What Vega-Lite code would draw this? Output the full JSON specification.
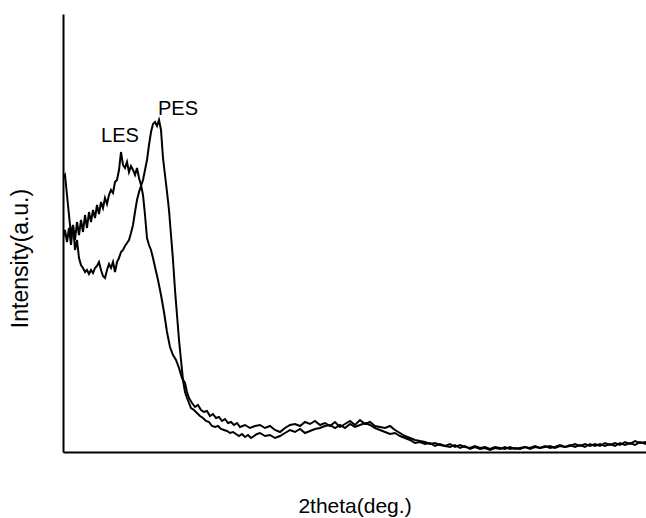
{
  "$schema": "https://vega.github.io/schema/vega-lite/v6.json",
  "width": 583,
  "height": 438,
  "autosize": {"type": "none"},
  "padding": {"left": 63, "top": 14, "right": 0, "bottom": 66},
  "background": "white",
  "config": {"view": {"stroke": null}, "font": "Liberation Sans"},
  "datasets": {
    "LES": [
      [0,214],[0.2,222],[0.4,210],[0.6,224],[0.8,207],[1.0,227],[1.2,212],[1.4,230],[1.6,217],[1.8,232],[2.0,220],[2.2,237],[2.4,224],[2.6,240],[2.8,230],[3.0,242],[3.2,234],[3.4,247],[3.6,238],[3.8,250],[4.0,244],[4.2,254],[4.4,248],[4.6,257],[4.8,262],[5.0,259],[5.2,270],[5.4,272],[5.6,282],[5.8,300],[6.0,287],[6.2,284],[6.4,290],[6.6,280],[6.8,286],[7.0,282],[7.2,277],[7.4,284],[7.6,274],[7.8,267],[8.0,257],[8.2,237],[8.4,214],[8.6,207],[8.8,202],[9.0,194],[9.2,185],[9.5,172],[9.8,157],[10.1,140],[10.4,120],[10.7,105],[11.0,97],[11.3,92],[11.6,84],[11.9,74],[12.2,69],[12.4,60],[12.6,54],[12.9,49],[13.2,45],[13.5,47],[13.8,42],[14.1,40],[14.4,41],[14.7,36],[15.0,38],[15.3,34],[15.6,35],[15.9,31],[16.2,33],[16.5,29],[16.8,30],[17.1,27],[17.4,29],[17.7,25],[18.2,27],[18.7,24],[19.2,26],[19.7,27],[20.2,24],[20.7,26],[21.2,22],[21.7,20],[22.2,24],[22.7,27],[23.2,28],[23.7,26],[24.2,30],[24.7,28],[25.2,31],[25.7,27],[26.2,29],[26.7,26],[27.2,30],[27.7,25],[28.2,28],[28.7,31],[29.2,27],[29.7,32],[30.2,28],[30.7,30],[31.2,26],[31.7,25],[32.2,24],[32.7,26],[33.2,22],[33.7,19],[34.2,16],[34.7,14],[35.2,12],[35.7,11],[36.2,10],[36.7,8],[37.2,9],[37.7,7],[38.2,6],[38.7,8],[39.2,5],[39.7,7],[40.2,5],[40.7,4],[41.2,6],[41.7,4],[42.2,5],[42.7,3],[43.2,5],[43.7,4],[44.2,3],[44.7,5],[45.2,3],[45.7,4],[46.2,5],[46.7,3],[47.2,5],[47.7,4],[48.2,6],[48.7,4],[49.2,5],[49.7,7],[50.2,5],[50.7,6],[51.2,8],[51.7,6],[52.2,8],[52.7,6],[53.2,8],[53.7,6],[54.2,9],[54.7,7],[55.2,9],[55.7,7],[56.2,10],[56.7,8],[57.2,11],[57.7,9],[58.3,10]
    ],
    "PES": [
      [0,274],[0.2,277],[0.4,257],[0.6,237],[0.8,217],[1.0,227],[1.2,202],[1.4,212],[1.6,194],[1.8,187],[2.0,184],[2.2,180],[2.4,182],[2.6,178],[2.8,182],[3.0,179],[3.2,184],[3.4,186],[3.6,190],[3.8,182],[4.0,176],[4.2,174],[4.4,182],[4.6,188],[4.8,184],[5.0,190],[5.2,180],[5.4,190],[5.6,194],[5.8,200],[6.0,202],[6.2,206],[6.4,209],[6.6,212],[6.8,219],[7.0,227],[7.2,240],[7.4,252],[7.6,260],[7.8,266],[8.0,272],[8.2,282],[8.4,292],[8.6,307],[8.8,320],[9.0,328],[9.2,330],[9.4,326],[9.6,332],[9.8,322],[10.0,294],[10.2,277],[10.4,260],[10.6,242],[10.8,217],[11.0,192],[11.2,162],[11.4,137],[11.6,112],[11.8,92],[12.0,72],[12.2,60],[12.4,54],[12.6,49],[12.8,44],[13.1,42],[13.4,39],[13.7,36],[14.0,34],[14.3,31],[14.6,30],[14.9,26],[15.2,25],[15.5,26],[15.8,23],[16.1,22],[16.4,21],[16.7,19],[17.0,20],[17.3,18],[17.6,16],[17.9,18],[18.2,15],[18.5,17],[18.8,14],[19.1,16],[19.4,18],[19.7,19],[20.2,16],[20.7,17],[21.2,14],[21.7,16],[22.2,19],[22.7,22],[23.2,20],[23.7,23],[24.2,19],[24.7,21],[25.2,23],[25.7,24],[26.2,26],[26.7,27],[27.2,24],[27.7,27],[28.2,24],[28.7,28],[29.2,25],[29.7,27],[30.2,29],[30.7,27],[31.2,24],[31.7,22],[32.2,20],[32.7,18],[33.2,19],[33.7,16],[34.2,14],[34.7,12],[35.2,9],[35.7,10],[36.2,8],[36.7,9],[37.2,6],[37.7,8],[38.2,6],[38.7,5],[39.2,7],[39.7,4],[40.2,6],[40.7,3],[41.2,5],[41.7,3],[42.2,4],[42.7,2],[43.2,4],[43.7,3],[44.2,5],[44.7,3],[45.2,4],[45.7,3],[46.2,5],[46.7,4],[47.2,6],[47.7,4],[48.2,5],[48.7,6],[49.2,4],[49.7,6],[50.2,5],[50.7,7],[51.2,5],[51.7,7],[52.2,5],[52.7,8],[53.2,6],[53.7,8],[54.2,6],[54.7,8],[55.2,6],[55.7,9],[56.2,7],[56.7,9],[57.2,7],[57.7,10],[58.3,8]
    ],
    "labels": [
      {"name": "LES", "theta": 5.7, "intensity": 316},
      {"name": "PES", "theta": 11.5, "intensity": 343}
    ]
  },
  "layer": [
    {
      "data": {"name": "LES"},
      "transform": [
        {"calculate": "datum[0]", "as": "theta"},
        {"calculate": "datum[1]", "as": "intensity"}
      ],
      "mark": {"type": "line", "color": "black", "strokeWidth": 2, "clip": true},
      "encoding": {
        "x": {"field": "theta", "type": "quantitative", "scale": {"domain": [0, 58.3], "nice": false, "zero": false},
              "axis": {"title": "2theta(deg.)", "labels": false, "ticks": false, "grid": false, "domainColor": "black", "domainWidth": 2, "titleFontSize": 21, "titleFontWeight": "normal", "titleColor": "black", "titlePadding": 43, "titleFont": "Liberation Sans"}},
        "y": {"field": "intensity", "type": "quantitative", "scale": {"domain": [0, 438], "nice": false},
              "axis": {"title": "Intensity(a.u.)", "labels": false, "ticks": false, "grid": false, "domainColor": "black", "domainWidth": 2, "titleFontSize": 23, "titleFontWeight": "normal", "titleColor": "black", "titleX": -31, "titleY": 244, "titleFont": "Liberation Sans"}},
        "order": {"field": "theta", "type": "quantitative"}
      }
    },
    {
      "data": {"name": "PES"},
      "transform": [
        {"calculate": "datum[0]", "as": "theta"},
        {"calculate": "datum[1]", "as": "intensity"}
      ],
      "mark": {"type": "line", "color": "black", "strokeWidth": 2, "clip": true},
      "encoding": {
        "x": {"field": "theta", "type": "quantitative"},
        "y": {"field": "intensity", "type": "quantitative"},
        "order": {"field": "theta", "type": "quantitative"}
      }
    },
    {
      "data": {"name": "labels"},
      "mark": {"type": "text", "fontSize": 20, "color": "black", "font": "Liberation Sans", "align": "center", "baseline": "middle"},
      "encoding": {
        "x": {"field": "theta", "type": "quantitative"},
        "y": {"field": "intensity", "type": "quantitative"},
        "text": {"field": "name"}
      }
    }
  ]
}
